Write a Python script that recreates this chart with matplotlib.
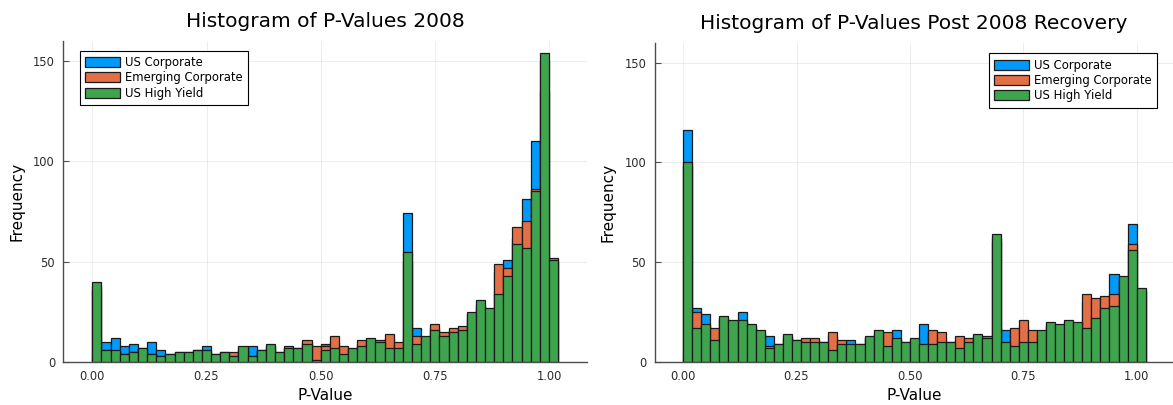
import numpy as np
import matplotlib.pyplot as plt

# bin edges: 0.00 .. 1.02, width 0.02
BIN_W = 0.02
bin_left = np.arange(51) * BIN_W

labels = ["US Corporate", "Emerging Corporate", "US High Yield"]
colors = ["#009AFA", "#E36F47", "#3EA44E"]

# 2008 counts per bin
us_corp_2008 = [36, 10, 12, 8, 9, 6, 10, 6, 4, 5, 4, 5, 8, 3, 4, 4, 7, 8, 5, 8,
                4, 7, 6, 10, 7, 9, 10, 6, 6, 9, 10, 9, 12, 8, 74, 17, 12, 17, 14, 16,
                17, 24, 28, 25, 45, 51, 62, 81, 110, 135, 50]
em_corp_2008 = [38, 6, 5, 4, 5, 7, 4, 3, 3, 4, 5, 6, 5, 4, 5, 5, 6, 3, 6, 7,
                5, 8, 7, 11, 8, 8, 13, 8, 6, 11, 11, 11, 14, 10, 50, 13, 11, 19, 15, 17,
                18, 22, 29, 26, 49, 47, 67, 70, 86, 150, 52]
us_hy_2008 = [40, 6, 6, 4, 5, 7, 4, 3, 4, 5, 5, 6, 6, 4, 5, 3, 8, 3, 6, 9,
              5, 7, 7, 9, 1, 6, 7, 4, 7, 8, 12, 10, 7, 7, 55, 9, 13, 16, 13, 15,
              16, 25, 31, 27, 34, 43, 59, 57, 85, 154, 51]

# post 2008 recovery counts per bin
us_corp_post = [116, 27, 24, 15, 22, 20, 25, 18, 15, 13, 8, 13, 10, 11, 11, 9, 13, 10, 11, 8,
                12, 15, 13, 16, 9, 11, 19, 14, 12, 9, 11, 11, 13, 12, 60, 16, 14, 18, 14, 15,
                19, 18, 20, 19, 30, 29, 31, 44, 40, 69, 35]
em_corp_post = [98, 25, 18, 17, 21, 19, 20, 17, 14, 8, 9, 12, 11, 12, 12, 10, 15, 11, 8, 9,
                12, 14, 15, 11, 10, 10, 8, 16, 15, 10, 13, 12, 12, 13, 62, 9, 17, 21, 16, 14,
                18, 17, 19, 18, 34, 32, 33, 34, 41, 59, 36]
us_hy_post = [100, 17, 19, 11, 23, 21, 21, 19, 16, 7, 9, 14, 11, 10, 10, 10, 6, 9, 9, 9,
              13, 16, 8, 12, 10, 12, 9, 9, 10, 10, 7, 10, 14, 12, 64, 10, 8, 10, 10, 16,
              20, 19, 21, 20, 17, 22, 27, 28, 43, 56, 37]

fig = plt.figure(figsize=(11.73, 4.05), dpi=100)
ax1 = fig.add_axes([0.054, 0.106, 0.4467, 0.7935])
ax2 = fig.add_axes([0.558, 0.106, 0.442, 0.7889])


def draw(ax, series, title, xlim, legend_anchor, legend_loc):
    for counts, lab, col in zip(series, labels, colors):
        ax.bar(bin_left, counts, width=BIN_W, align="edge", color=col,
               edgecolor="#1a1a1a", linewidth=0.9, label=lab, zorder=2)
    ax.set_xlim(*xlim)
    ax.set_ylim(0, 160)
    ax.set_xticks([0, 0.25, 0.5, 0.75, 1.0])
    ax.set_xticklabels(["0.00", "0.25", "0.50", "0.75", "1.00"])
    ax.set_yticks([0, 50, 100, 150])
    ax.grid(True, color="black", alpha=0.1, linewidth=0.5, zorder=0)
    ax.set_axisbelow(True)
    for s in ["top", "right"]:
        ax.spines[s].set_visible(False)
    for s in ["left", "bottom"]:
        ax.spines[s].set_color("#4d4d4d")
        ax.spines[s].set_linewidth(1.0)
    ax.tick_params(direction="in", length=4, width=0.8, color="#4d4d4d",
                   labelsize=8.3, labelcolor="#2b2b2b", pad=6)
    ax.set_xlabel("P-Value", fontsize=11, labelpad=3)
    ax.set_ylabel("Frequency", fontsize=11, labelpad=6)
    ax.set_title(title, fontsize=14.5, pad=10)
    leg = ax.legend(loc=legend_loc, bbox_to_anchor=legend_anchor, fontsize=8.4,
                    fancybox=False, framealpha=1, edgecolor="black",
                    borderaxespad=0, handlelength=3.0, handleheight=0.95,
                    labelspacing=0.2, borderpad=0.45, handletextpad=0.4)
    leg.get_frame().set_linewidth(0.8)


draw(ax1, [us_corp_2008, em_corp_2008, us_hy_2008],
     "Histogram of P-Values 2008", (-0.0635, 1.0839), (0.032, 0.969), "upper left")
draw(ax2, [us_corp_post, em_corp_post, us_hy_post],
     "Histogram of P-Values Post 2008 Recovery", (-0.063, 1.080), (0.969, 0.966), "upper right")

fig.savefig("out.png", dpi=100)
